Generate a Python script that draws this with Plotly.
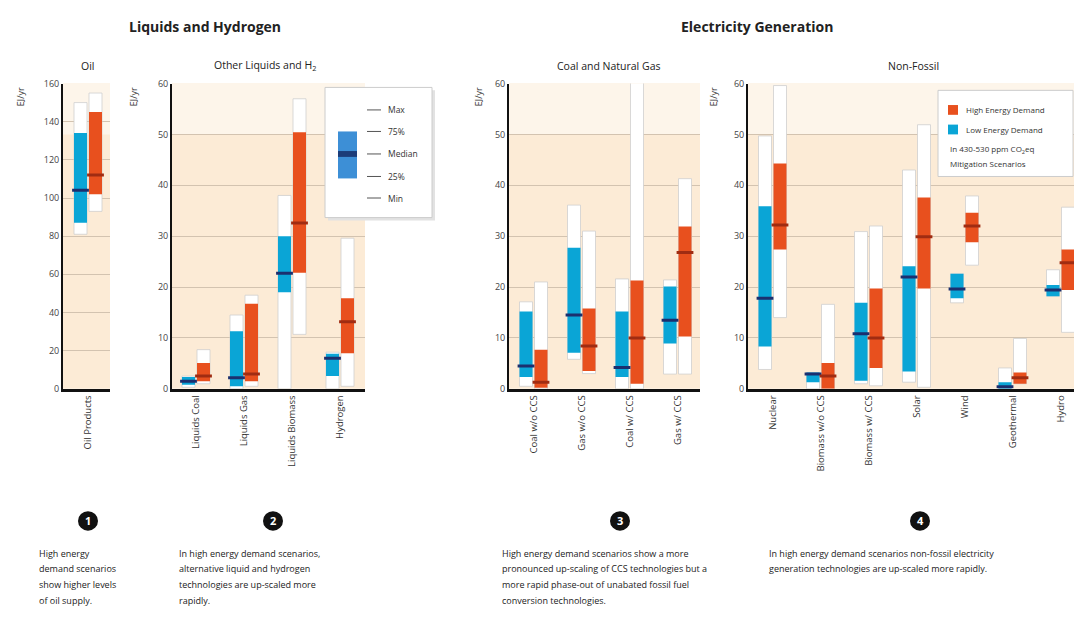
import plotly.graph_objects as go

# ---------------- data (min, 25%, median, 75%, max) ----------------
oil_cats = ["Oil Products"]
oil_low = [(81, 87, 104, 134, 150)]
oil_high = [(93, 102, 112, 145, 155)]

liq_cats = ["Liquids Coal", "Liquids Gas", "Liquids Biomass", "Hydrogen"]
liq_low = [(0.3, 0.8, 1.5, 2.3, 2.5),
           (0.0, 0.5, 2.2, 11.3, 14.5),
           (0.0, 19.0, 22.7, 30.0, 38.0),
           (0.0, 2.5, 6.0, 6.9, 7.2)]
liq_high = [(1.0, 1.5, 2.5, 5.1, 7.7),
            (0.5, 1.5, 2.9, 16.7, 18.4),
            (10.7, 22.8, 32.6, 50.4, 57.0),
            (0.5, 7.0, 13.2, 17.8, 29.6)]

fos_cats = ["Coal w/o CCS", "Gas w/o CCS", "Coal w/ CCS", "Gas w/ CCS"]
fos_low = [(0.5, 2.3, 4.5, 15.2, 17.1),
           (5.8, 7.1, 14.5, 27.7, 36.1),
           (0.0, 2.3, 4.2, 15.2, 21.6),
           (2.9, 8.9, 13.5, 20.1, 21.4)]
fos_high = [(0.0, 0.2, 1.3, 7.7, 21.0),
            (3.0, 3.5, 8.4, 15.8, 31.0),
            (0.0, 1.0, 10.0, 21.3, 62.0),
            (2.9, 10.3, 26.8, 31.9, 41.3)]

nf_cats = ["Nuclear", "Biomass w/o CCS", "Biomass w/ CCS", "Solar", "Wind", "Geothermal", "Hydro"]
nf_low = [(3.8, 8.3, 17.8, 35.9, 49.7),
          (0.0, 1.3, 2.9, 3.2, 3.2),
          (1.0, 1.6, 10.8, 16.9, 30.9),
          (1.3, 3.4, 22.0, 24.1, 43.0),
          (16.9, 17.8, 19.6, 22.6, 22.6),
          (0.0, 0.0, 0.4, 1.3, 4.1),
          (18.2, 18.2, 19.4, 20.4, 23.4)]
nf_high = [(14.0, 27.4, 32.2, 44.3, 59.6),
           (0.0, 0.0, 2.5, 5.1, 16.6),
           (0.6, 4.1, 10.0, 19.7, 32.0),
           (0.3, 19.7, 29.9, 37.6, 51.9),
           (24.3, 28.8, 32.0, 34.6, 37.9),
           (1.0, 1.0, 2.2, 3.2, 9.9),
           (11.1, 19.4, 24.8, 27.4, 35.7)]

oil_ticks = [0, 20, 40, 60, 80, 100, 120, 140, 160]
ej_ticks = [0, 10, 20, 30, 40, 50, 60]

# ---------------- styling ----------------
PAGE_W, PAGE_H = 1082, 624
BODY = 8                      # default page margin around the plot div
W, H = PAGE_W - 2 * BODY, PAGE_H - 2 * BODY
FONT = "Open Sans"
BLUE, BLUE_MED = "#0aa5d6", "#1b2f6e"
RED, RED_MED = "#e8501e", "#a02c12"
PEACH, PEACH_LIGHT = "#fcebd6", "#fdf5ea"
GRID = "#d3c3b0"


def px(x):
    return min(max((x - BODY) / W, 0.0), 1.0)


def py(y):
    return min(max(1 - (y - BODY) / H, 0.0), 1.0)


UNIT = 48.0          # pixels per category
BAR_W = 13 / UNIT
OFF = 7.5 / UNIT

panels = [
    dict(cats=oil_cats, low=oil_low, high=oil_high, ticks=oil_ticks, x0=63, x1=110, c0=88),
    dict(cats=liq_cats, low=liq_low, high=liq_high, ticks=ej_ticks, x0=172, x1=365, c0=196),
    dict(cats=fos_cats, low=fos_low, high=fos_high, ticks=ej_ticks, x0=509, x1=700, c0=533.5),
    dict(cats=nf_cats, low=nf_low, high=nf_high, ticks=ej_ticks, x0=748, x1=BODY + W, c0=772.5),
]
Y_TOP, Y_BOT = 78, 390

fig = go.Figure()
shapes = []
annotations = []

for k, p in enumerate(panels, start=1):
    xa = "x" if k == 1 else f"x{k}"
    ya = "y" if k == 1 else f"y{k}"
    n = len(p["cats"])
    for data, col, med_col, sgn in ((p["low"], BLUE, BLUE_MED, -1), (p["high"], RED, RED_MED, 1)):
        xs = [i + sgn * OFF for i in range(n)]
        mins = [d[0] for d in data]
        q1 = [d[1] for d in data]
        med = [d[2] for d in data]
        q3 = [d[3] for d in data]
        mx = [d[4] for d in data]
        fig.add_trace(go.Bar(x=xs, y=[b - a for a, b in zip(mins, mx)], base=mins, width=BAR_W,
                             marker=dict(color="white", line=dict(color="#cfcfcf", width=0.8)),
                             xaxis=xa, yaxis=ya, hoverinfo="skip"))
        fig.add_trace(go.Bar(x=xs, y=[b - a for a, b in zip(q1, q3)], base=q1, width=BAR_W,
                             marker=dict(color=col, line=dict(width=0)),
                             xaxis=xa, yaxis=ya))
        fig.add_trace(go.Scatter(x=xs, y=med, mode="markers",
                                 marker=dict(symbol="line-ew", size=12, line=dict(color=med_col, width=3)),
                                 xaxis=xa, yaxis=ya))
    rng = [(p["x0"] - p["c0"]) / UNIT, (p["x1"] - p["c0"]) / UNIT]
    axis_key = "xaxis" if k == 1 else f"xaxis{k}"
    yaxis_key = "yaxis" if k == 1 else f"yaxis{k}"
    fig.update_layout(**{
        axis_key: dict(domain=[px(p["x0"]), px(p["x1"])], range=rng, anchor=ya,
                       tickmode="array", tickvals=list(range(n)), ticktext=p["cats"],
                       tickangle=-90, showgrid=False, zeroline=False, showline=True,
                       linecolor="#111", linewidth=2.5, ticks="",
                       tickfont=dict(family=FONT, size=9.5, color="#333"), fixedrange=True),
        yaxis_key: dict(domain=[py(Y_BOT), py(Y_TOP)], range=[0, p["ticks"][-1]], anchor=xa,
                        tickmode="array", tickvals=p["ticks"], showgrid=True, gridcolor=GRID,
                        gridwidth=1, zeroline=False, showline=True, linecolor="#111", linewidth=2,
                        ticks="", tickfont=dict(family=FONT, size=9, color="#444"), fixedrange=True),
    })
    dom = "x domain" if k == 1 else f"x{k} domain"
    ydom = "y domain" if k == 1 else f"y{k} domain"
    shapes.append(dict(type="rect", xref=dom, yref=ydom, x0=0, x1=1, y0=0, y1=1,
                       fillcolor=PEACH, line=dict(width=0), layer="below"))
    shapes.append(dict(type="rect", xref=dom, yref="paper", x0=0, x1=1, y0=py(130), y1=py(Y_TOP),
                       fillcolor=PEACH_LIGHT, line=dict(width=0), layer="below"))

# y-axis unit labels
for xx in (20, 133, 478, 713):
    annotations.append(dict(x=px(xx), y=py(92), text="EJ/yr", textangle=-90,
                            font=dict(family=FONT, size=9, color="#333")))

# titles
annotations += [
    dict(x=px(205), y=py(20), text="<b>Liquids and Hydrogen</b>", font=dict(family=FONT, size=14, color="#222")),
    dict(x=px(757), y=py(20), text="<b>Electricity Generation</b>", font=dict(family=FONT, size=14, color="#222")),
    dict(x=px(87), y=py(60), text="Oil", font=dict(family=FONT, size=10.5, color="#222")),
    dict(x=px(265), y=py(60), text="Other Liquids and H<sub>2</sub>", font=dict(family=FONT, size=10.5, color="#222")),
    dict(x=px(608), y=py(60), text="Coal and Natural Gas", font=dict(family=FONT, size=10.5, color="#222")),
    dict(x=px(913), y=py(60), text="Non-Fossil", font=dict(family=FONT, size=10.5, color="#222")),
]

# legend 1 (box explanation)
shapes += [
    dict(type="rect", xref="paper", yref="paper", x0=px(328), x1=px(435), y0=py(218), y1=py(85),
         fillcolor="#e2e2e2", line=dict(width=0)),
    dict(type="rect", xref="paper", yref="paper", x0=px(325), x1=px(432), y0=py(215), y1=py(82),
         fillcolor="white", line=dict(color="#cccccc", width=1)),
    dict(type="rect", xref="paper", yref="paper", x0=px(338), x1=px(357), y0=py(175), y1=py(127),
         fillcolor="#3d8fd6", line=dict(width=0)),
    dict(type="rect", xref="paper", yref="paper", x0=px(338), x1=px(357), y0=py(153), y1=py(147),
         fillcolor="#1c3c78", line=dict(width=0)),
]
for lbl, yy in (("Max", 105), ("75%", 127), ("Median", 150), ("25%", 173), ("Min", 195)):
    shapes.append(dict(type="line", xref="paper", yref="paper", x0=px(367), x1=px(381),
                       y0=py(yy), y1=py(yy), line=dict(color="#555", width=1)))
    annotations.append(dict(x=px(386), y=py(yy), text=lbl, xanchor="left",
                            font=dict(family=FONT, size=8.5, color="#333")))

# legend 2 (scenario colours)
shapes += [
    dict(type="rect", xref="paper", yref="paper", x0=px(938), x1=px(1073), y0=py(173), y1=py(85),
         fillcolor="white", line=dict(color="#cccccc", width=1)),
    dict(type="rect", xref="paper", yref="paper", x0=px(948), x1=px(958), y0=py(110), y1=py(100),
         fillcolor=RED, line=dict(width=0)),
    dict(type="rect", xref="paper", yref="paper", x0=px(948), x1=px(958), y0=py(130), y1=py(120),
         fillcolor=BLUE, line=dict(width=0)),
]
annotations += [
    dict(x=px(964), y=py(105), text="High Energy Demand", xanchor="left", font=dict(family=FONT, size=8, color="#333")),
    dict(x=px(964), y=py(125), text="Low Energy Demand", xanchor="left", font=dict(family=FONT, size=8, color="#333")),
    dict(x=px(948), y=py(145), text="In 430-530 ppm CO<sub>2</sub>eq", xanchor="left", font=dict(family=FONT, size=8, color="#333")),
    dict(x=px(948), y=py(160), text="Mitigation Scenarios", xanchor="left", font=dict(family=FONT, size=8, color="#333")),
]

# numbered circles and notes
for num, cx in (("1", 88), ("2", 273), ("3", 620), ("4", 920)):
    shapes.append(dict(type="circle", xref="paper", yref="paper", x0=px(cx - 10), x1=px(cx + 10),
                       y0=py(535), y1=py(515), fillcolor="#111", line=dict(width=0)))
    annotations.append(dict(x=px(cx), y=py(525), text=f"<b>{num}</b>",
                            font=dict(family=FONT, size=11, color="white")))

notes = [
    (37, ["High energy", "demand scenarios", "show higher levels", "of oil supply."]),
    (177, ["In high energy demand scenarios,", "alternative liquid and hydrogen",
           "technologies are up-scaled more", "rapidly."]),
    (500, ["High energy demand scenarios show a more", "pronounced up-scaling of CCS technologies but a",
           "more rapid phase-out of unabated fossil fuel", "conversion technologies."]),
    (767, ["In high energy demand scenarios non-fossil electricity",
           "generation technologies are up-scaled more rapidly."]),
]
for xx, lines in notes:
    for j, line in enumerate(lines):
        annotations.append(dict(x=px(xx), y=py(558 + 16 * j), text=line, xanchor="left",
                                font=dict(family=FONT, size=9, color="#222")))

for a in annotations:
    a.setdefault("xref", "paper")
    a.setdefault("yref", "paper")
    a.setdefault("showarrow", False)
    a.setdefault("xanchor", "center")
    a.setdefault("yanchor", "middle")

fig.update_layout(width=W, height=H, margin=dict(l=0, r=0, t=0, b=0),
                  paper_bgcolor="white", plot_bgcolor="rgba(0,0,0,0)",
                  barmode="overlay", showlegend=False,
                  shapes=shapes, annotations=annotations,
                  font=dict(family=FONT))

fig.write_html("out.html")
